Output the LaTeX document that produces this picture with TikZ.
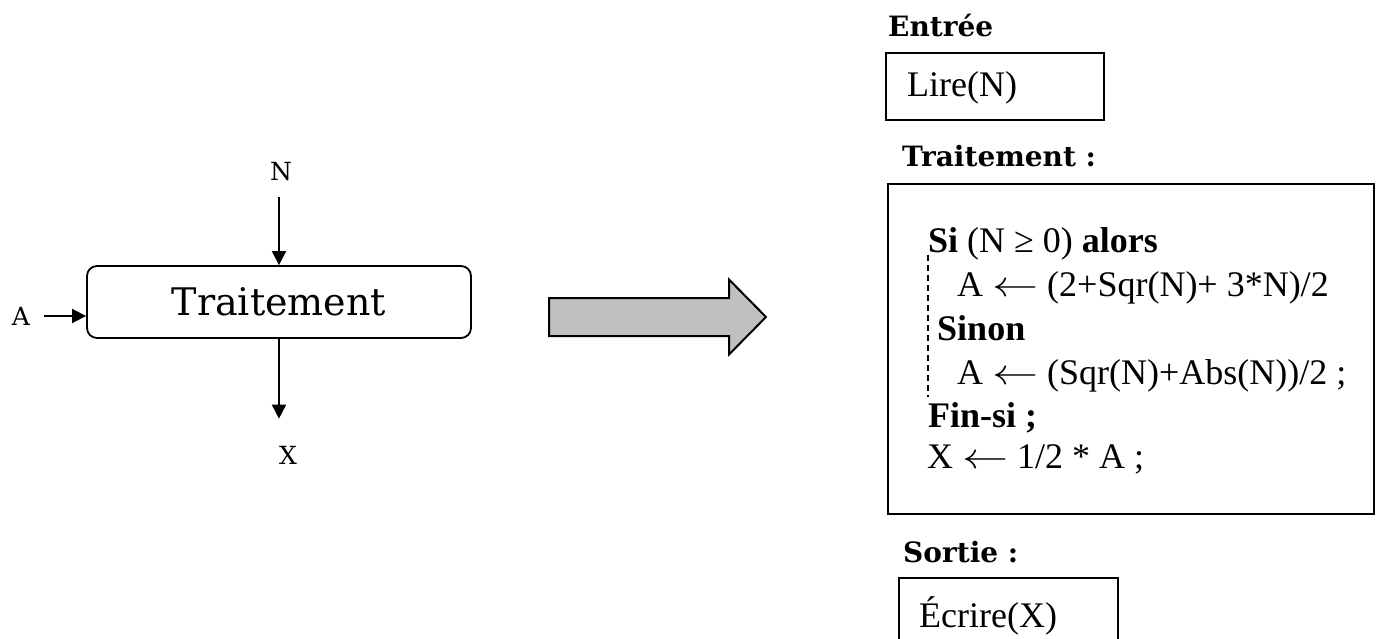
\documentclass[tikz,border=0pt]{standalone}
\usepackage{fontspec}
\setmainfont{Liberation Serif}
\newfontfamily\dvs{DejaVu Serif}
\usetikzlibrary{arrows.meta}
\definecolor{arrgray}{RGB}{192,192,192}
\newcommand{\myarrow}{\scalebox{1.85}[1.45]{$\leftarrow$}}
\begin{document}
\begin{tikzpicture}[x=1pt,y=-1pt,
  arr/.style={line width=1.8pt,-{Triangle[length=14pt,width=14pt]}},
  lbl/.style={font=\dvs\fontsize{25}{25}\selectfont, inner sep=0pt},
  head/.style={font=\dvs\bfseries\fontsize{28}{28}\selectfont, anchor=base west, inner sep=0pt},
  code/.style={font=\fontsize{36}{36}\selectfont, anchor=base west, inner sep=0pt},
  box/.style={draw, line width=1.6pt, anchor=north west, inner sep=0pt}]
\clip (0,0) rectangle (1382,639);
\fill[white] (0,0) rectangle (1382,639);
% left diagram
\node[draw, rounded corners=10pt, line width=1.8pt, minimum width=384pt, minimum height=72pt,
      font=\dvs\fontsize{38}{38}\selectfont] (tr) at (279,302) {Traitement};
\node[lbl] (n) at (281,172) {N};
\node[lbl] (a) at (21,316) {A};
\node[lbl] (x) at (288,455) {X};
\draw[arr, shorten <=16pt] (tr.north |- n.south) -- (tr.north);
\draw[arr, shorten <=14pt] (a.east) -- (a.east -| tr.west);
\draw[arr, shorten >=27pt] (tr.south) -- (tr.south |- x.north);
% big arrow
\draw[line width=2pt, fill=arrgray, line join=miter]
  (549,298) -- (729,298) -- (729,279.5) -- (766,317) -- (729,354.5) -- (729,336) -- (549,336) -- cycle;
% right side
\node[head] (ent) at (888,37) {Entrée};
\node[box, minimum width=218pt, minimum height=67pt] (lire) at (885,52) {};
\node[code] (lt) at (907,97) {Lire(N)};
\node[head] (trh) at (902,167) {Traitement :};
\node[box, minimum width=486pt, minimum height=330pt] (tbox) at (887,183) {};
\node[code] (l1) at (928,253) {\textbf{Si} (N ≥ 0) \textbf{alors}};
\node[code] (l2) at (957,297) {A \myarrow{} (2+Sqr(N)+ 3*N)/2};
\node[code] (l3) at (937,340) {\textbf{Sinon}};
\node[code] (l4) at (957,384) {A \myarrow{} (Sqr(N)+Abs(N))/2 ;};
\node[code] (l5) at (928,427) {\textbf{Fin-si ;}};
\node[code] (l6) at (927,468) {X \myarrow{} 1/2 * A ;};
\draw[line width=1.2pt, dash pattern=on 6pt off 4pt] (l1.base west) ++(0,2) -- (928,397);
\node[head] (sor) at (903,562) {Sortie :};
\node[box, minimum width=219pt, minimum height=100pt] (ecr) at (898,577) {};
\node[code] (et) at (919,627) {Écrire(X)};
\end{tikzpicture}
\end{document}
